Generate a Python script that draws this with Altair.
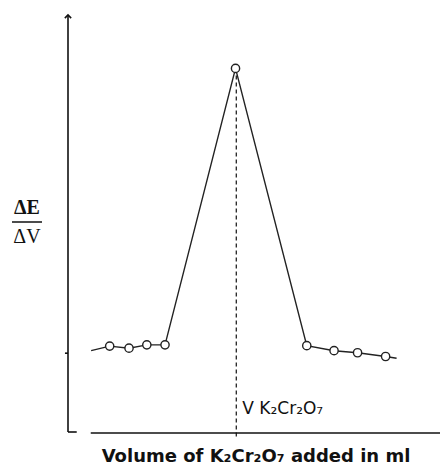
import altair as alt
import pandas as pd

# ---- data ----
volume = [0.61, 1.10, 1.61, 2.08, 2.56, 4.42, 6.30, 7.02, 7.64, 8.38, 8.67]
dE_dV = [19.5, 20.6, 20.1, 20.9, 20.9, 87.2, 20.7, 19.5, 19.0, 18.1, 17.7]
marked = [False, True, True, True, True, True, True, True, True, True, False]
end_point_volume = 4.44
tick_value = 18.9
x_axis_start = 0.6
x_max = 10.0
y_max = 100.0

x_title = "Volume of K\u2082Cr\u2082O\u2087 added in ml"
end_label = "V K\u2082Cr\u2082O\u2087"
y_num = "\u0394E"
y_den = "\u0394V"

df = pd.DataFrame({"v": volume, "d": dE_dV, "m": marked})
pts = df[df["m"]]

xs = alt.Scale(domain=[0, x_max], range=[60, 439], nice=False, zero=False)
ys = alt.Scale(domain=[0, y_max], range=[424, 7], nice=False, zero=False)

def X(field="x", **kw):
    return alt.X(f"{field}:Q", scale=xs, axis=None, **kw)

def Y(field="y", **kw):
    return alt.Y(f"{field}:Q", scale=ys, axis=None, **kw)

ink = "#111111"

# axes
axes_df = pd.DataFrame({
    "x": [0, 0, x_axis_start, -0.08],
    "x2": [0, 0.23, x_max, 0],
    "y": [0, 0, -0.24, tick_value],
    "y2": [y_max, 0, -0.24, tick_value],
})
axes = alt.Chart(axes_df).mark_rule(color=ink, strokeWidth=1.6).encode(
    x=X("x"), x2="x2:Q", y=Y("y"), y2="y2:Q"
)

arrow_up = alt.Chart(pd.DataFrame({"x": [0], "y": [y_max]})).mark_point(
    shape="M-1,1L0,0L1,1", size=40, filled=False, color=ink, strokeWidth=1.6, opacity=1
).encode(x=X("x"), y=Y("y"))
arrow_right = alt.Chart(pd.DataFrame({"x": [x_max], "y": [-0.24]})).mark_point(
    shape="M-1,-1L0,0L-1,1", size=40, filled=False, color=ink, strokeWidth=1.6, opacity=1
).encode(x=X("x"), y=Y("y"))

# equivalence dashed line
peak = max(dE_dV)
dash = alt.Chart(pd.DataFrame({"x": [end_point_volume], "y": [peak], "y2": [-1.2]})).mark_rule(
    color=ink, strokeWidth=1.2, strokeDash=[4, 3]
).encode(x=X("x"), y=Y("y"), y2="y2:Q")

line = alt.Chart(df).mark_line(color="#222222", strokeWidth=1.4).encode(
    x=X("v"), y=Y("d"), order="v:Q"
)
circles = alt.Chart(pts).mark_point(
    shape="circle", size=68, filled=True, fill="white", stroke="#222222", strokeWidth=1.4, opacity=1
).encode(x=X("v"), y=Y("d"))

lab = alt.Chart(pd.DataFrame({"x": [end_point_volume], "t": [end_label]})).mark_text(
    align="left", baseline="alphabetic", font="DejaVu Sans", fontSize=17, color=ink, dx=6
).encode(x=X("x"), y=alt.value(406), text="t:N")

title = alt.Chart(pd.DataFrame({"t": [x_title]})).mark_text(
    align="center", baseline="alphabetic", font="DejaVu Sans", fontWeight="bold", fontSize=18, color=ink
).encode(x=alt.value(248), y=alt.value(454), text="t:N")

num = alt.Chart(pd.DataFrame({"t": [y_num]})).mark_text(
    align="center", baseline="alphabetic", font="Liberation Serif", fontWeight="bold", fontSize=20, color=ink
).encode(x=alt.value(19), y=alt.value(206), text="t:N")
den = alt.Chart(pd.DataFrame({"t": [y_den]})).mark_text(
    align="center", baseline="alphabetic", font="Liberation Serif", fontSize=20, color=ink
).encode(x=alt.value(19), y=alt.value(235), text="t:N")
bar = alt.Chart(pd.DataFrame({"a": [0]})).mark_rule(color=ink, strokeWidth=1.5).encode(
    x=alt.value(4), x2=alt.value(34), y=alt.value(214)
)

chart = alt.layer(
    axes, arrow_up, arrow_right, dash, line, circles, lab, title, num, den, bar
).properties(
    width=432, height=458, padding=0, autosize=alt.AutoSizeParams(type="none")
).configure_view(stroke=None, strokeWidth=0)

chart.save("out.html", embed_options={"renderer": "svg", "actions": False})
